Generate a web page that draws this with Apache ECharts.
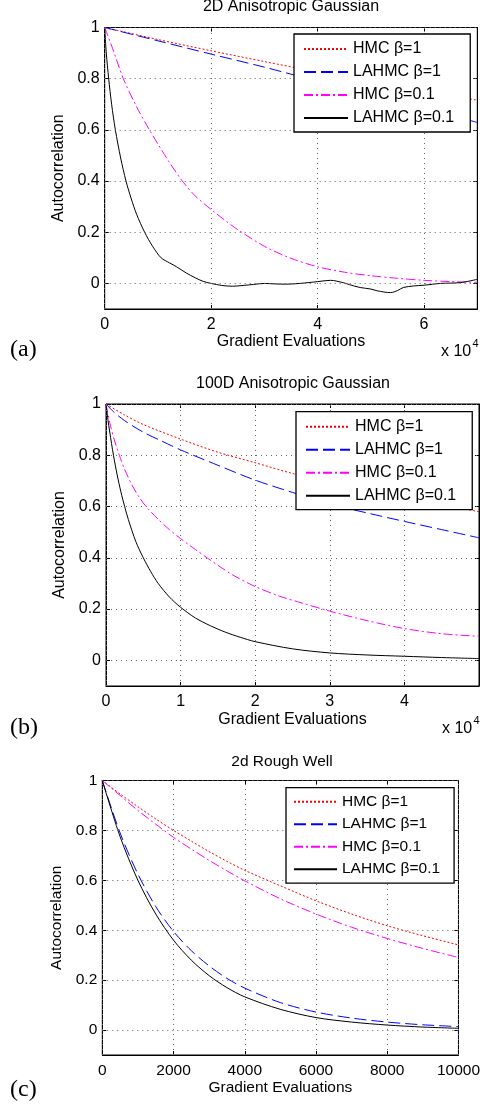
<!DOCTYPE html>
<html>
<head>
<meta charset="utf-8">
<script src="https://cdn.jsdelivr.net/npm/echarts@6/dist/echarts.min.js"></script>
<style>
html,body{margin:0;padding:0;background:#fff;}
#chart{width:483px;height:1107px;}
</style>
</head>
<body>
<div id="chart"></div>
<script>
// ---------- DATA ----------
const SERIES_NAMES = ['HMC β=1', 'LAHMC β=1', 'HMC β=0.1', 'LAHMC β=0.1'];
const TITLES = ['2D Anisotropic Gaussian', '100D Anisotropic Gaussian', '2d Rough Well'];
const Y_TICKS = [0, 0.2, 0.4, 0.6, 0.8, 1];
const A_XTICKS = [0, 20000, 40000, 60000];
const B_XTICKS = [0, 10000, 20000, 30000, 40000];
const C_XTICKS = [0, 2000, 4000, 6000, 8000, 10000];

// Panel (a) 2D Anisotropic Gaussian
const A_HMC1_X = [0, 10000, 20000, 30000, 40000, 50000, 60000, 70000];
const A_HMC1_Y = [1, 0.953, 0.909, 0.867, 0.826, 0.788, 0.751, 0.716];
const A_LAHMC1_X = [0, 10000, 20000, 30000, 40000, 50000, 60000, 70000];
const A_LAHMC1_Y = [1, 0.948, 0.896, 0.845, 0.79, 0.737, 0.684, 0.629];
const A_HMC01_X = [0, 1500, 3500, 6000, 8400, 10000, 12000, 14400, 17000, 20000, 22500, 25000, 30000, 35000, 40000, 45000, 50000, 55000, 60000, 65000, 70000];
const A_HMC01_Y = [1, 0.917, 0.8, 0.69, 0.6, 0.545, 0.478, 0.405, 0.342, 0.289, 0.248, 0.21, 0.145, 0.098, 0.065, 0.044, 0.03, 0.02, 0.012, 0.007, 0.004];
const A_LAHMC01_X = [0, 300, 750, 1300, 2000, 3000, 4000, 5000, 6000, 7500, 9000, 10600, 12200, 13500, 15300, 17000, 18500, 20000, 22000, 24000, 26000, 28000, 30000, 32000, 34000, 36700, 40000, 42400, 44800, 46000, 48000, 50000, 51200, 53700, 55000, 56100, 58000, 60000, 63100, 66800, 70000];
const A_LAHMC01_Y = [1, 0.9, 0.8, 0.7, 0.6, 0.49, 0.4, 0.33, 0.27, 0.2, 0.145, 0.1, 0.08, 0.065, 0.041, 0.022, 0.008, 0, -0.008, -0.011, -0.008, -0.004, 0, -0.002, -0.003, 0, 0.007, 0.012, 0.003, -0.005, -0.016, -0.022, -0.029, -0.036, -0.028, -0.016, -0.01, -0.007, 0, 0.003, 0.016];

// Panel (b) 100D Anisotropic Gaussian
const B_HMC1_X = [0, 2500, 5000, 10000, 15000, 20000, 25000, 30000, 35000, 40000, 45000, 50000];
const B_HMC1_Y = [1, 0.957, 0.92, 0.863, 0.812, 0.771, 0.729, 0.695, 0.665, 0.635, 0.607, 0.58];
const B_LAHMC1_X = [0, 1000, 2500, 5000, 7500, 10000, 15000, 20000, 25000, 30000, 35000, 40000, 45000, 50000];
const B_LAHMC1_Y = [1, 0.97, 0.935, 0.89, 0.855, 0.821, 0.761, 0.703, 0.655, 0.61, 0.575, 0.542, 0.51, 0.478];
const B_HMC01_X = [0, 600, 1200, 1790, 2500, 3500, 4500, 5440, 7000, 8500, 10000, 12000, 13600, 15000, 17000, 20000, 23300, 26000, 30000, 35000, 40000, 45000, 50000];
const B_HMC01_Y = [1, 0.915, 0.852, 0.8, 0.745, 0.683, 0.634, 0.598, 0.55, 0.51, 0.475, 0.432, 0.399, 0.371, 0.333, 0.288, 0.25, 0.226, 0.192, 0.155, 0.124, 0.104, 0.094];
const B_LAHMC01_X = [0, 250, 500, 1000, 1500, 2000, 2500, 3000, 4000, 5000, 6000, 7000, 8500, 10000, 12000, 14000, 16000, 18000, 20000, 25000, 30000, 35000, 40000, 45000, 50000];
const B_LAHMC01_Y = [1, 0.94, 0.891, 0.8, 0.723, 0.657, 0.6, 0.549, 0.463, 0.4, 0.346, 0.3, 0.247, 0.207, 0.165, 0.135, 0.11, 0.09, 0.073, 0.045, 0.029, 0.021, 0.016, 0.011, 0.007];

// Panel (c) 2d Rough Well
const C_X = [0, 500, 1000, 1500, 2000, 2500, 3000, 3500, 4000, 5000, 6000, 7000, 8000, 9000, 10000];
const C_HMC1_Y = [1, 0.946, 0.895, 0.846, 0.8, 0.757, 0.715, 0.676, 0.64, 0.578, 0.518, 0.465, 0.418, 0.378, 0.341];
const C_LAHMC1_Y = [1, 0.79, 0.625, 0.495, 0.395, 0.318, 0.257, 0.207, 0.168, 0.11, 0.072, 0.048, 0.032, 0.021, 0.014];
const C_HMC01_Y = [1, 0.94, 0.88, 0.825, 0.772, 0.725, 0.68, 0.638, 0.598, 0.526, 0.465, 0.412, 0.367, 0.327, 0.291];
const C_LAHMC01_Y = [1, 0.775, 0.6, 0.465, 0.36, 0.28, 0.218, 0.17, 0.133, 0.083, 0.05, 0.032, 0.02, 0.012, 0.007];

// ---------- STYLE ----------
const FONT = "'Liberation Sans', Arial, Helvetica, sans-serif";
const SERIF = "'Liberation Serif', 'Times New Roman', serif";
const STYLES = [
  { color: '#ff0000', type: [2, 2] },
  { color: '#0000ff', type: [12, 5] },
  { color: '#ff00ff', type: [9, 3, 2, 3] },
  { color: '#000000', type: 'solid' }
];

const GRIDS = [
  { left: 104.7, top: 27.5, width: 372.6, height: 281.5 },
  { left: 106, top: 404, width: 373, height: 282 },
  { left: 102.3, top: 780.5, width: 359.4, height: 274.5 }
];
const XMAX = [70000, 50000, 10000];
const XTICKS = [A_XTICKS, B_XTICKS, C_XTICKS];
const XFMT = [v => String(v / 10000), v => String(v / 10000), v => String(v)];
const FS = [16, 16, 15.5];
const XNAMEGAP = [25, 26, 24];
const YNAMEGAP = [36, 37, 34];

function zip(xs, ys) { return xs.map((x, i) => [x, ys[i]]); }
const PANEL_DATA = [
  [zip(A_HMC1_X, A_HMC1_Y), zip(A_LAHMC1_X, A_LAHMC1_Y), zip(A_HMC01_X, A_HMC01_Y), zip(A_LAHMC01_X, A_LAHMC01_Y)],
  [zip(B_HMC1_X, B_HMC1_Y), zip(B_LAHMC1_X, B_LAHMC1_Y), zip(B_HMC01_X, B_HMC01_Y), zip(B_LAHMC01_X, B_LAHMC01_Y)],
  [zip(C_X, C_HMC1_Y), zip(C_X, C_LAHMC1_Y), zip(C_X, C_HMC01_Y), zip(C_X, C_LAHMC01_Y)]
];

const xAxis = [], yAxis = [], series = [], title = [], legend = [];
const tickStyle = { color: '#000', width: 1 };

for (let p = 0; p < 3; p++) {
  xAxis.push({
    gridIndex: p, type: 'value', min: 0, max: XMAX[p], position: 'bottom',
    name: 'Gradient Evaluations', nameLocation: 'middle', nameGap: XNAMEGAP[p],
    nameTextStyle: { fontFamily: FONT, fontSize: FS[p], color: '#000' },
    axisLine: { show: true, onZero: false, lineStyle: { color: '#000', width: 1 } },
    axisTick: { show: true, inside: true, length: 4, customValues: XTICKS[p], lineStyle: tickStyle },
    axisLabel: { customValues: XTICKS[p], formatter: XFMT[p], fontFamily: FONT, fontSize: FS[p], color: '#000', margin: 8 },
    splitLine: { show: false }
  });
  xAxis.push({
    gridIndex: p, type: 'value', min: 0, max: XMAX[p], position: 'top',
    axisLine: { show: true, onZero: false, lineStyle: { color: '#000', width: 1 } },
    axisTick: { show: true, inside: true, length: 4, customValues: XTICKS[p], lineStyle: tickStyle },
    axisLabel: { show: false }, splitLine: { show: false }
  });
  yAxis.push({
    gridIndex: p, type: 'value', min: -0.1, max: 1, position: 'left',
    name: 'Autocorrelation', nameLocation: 'middle', nameGap: YNAMEGAP[p],
    nameTextStyle: { fontFamily: FONT, fontSize: FS[p], color: '#000' },
    axisLine: { show: true, onZero: false, lineStyle: { color: '#000', width: 1 } },
    axisTick: { show: true, inside: true, length: 4, customValues: Y_TICKS, lineStyle: tickStyle },
    axisLabel: { customValues: Y_TICKS, fontFamily: FONT, fontSize: FS[p], color: '#000', margin: 5,
      formatter: v => String(Math.round(v * 10) / 10) },
    splitLine: { show: false }
  });
  yAxis.push({
    gridIndex: p, type: 'value', min: -0.1, max: 1, position: 'right',
    axisLine: { show: true, onZero: false, lineStyle: { color: '#000', width: 1 } },
    axisTick: { show: true, inside: true, length: 4, customValues: Y_TICKS, lineStyle: tickStyle },
    axisLabel: { show: false }, splitLine: { show: false }
  });

  // dotted grid lines at the tick values
  series.push({
    name: 'grid' + p, type: 'line', xAxisIndex: p * 2, yAxisIndex: p * 2, data: [],
    silent: true, animation: false, z: 1,
    markLine: {
      silent: true, animation: false, symbol: ['none', 'none'], label: { show: false },
      lineStyle: { color: '#666', width: 1, type: [1, 4] },
      emphasis: { disabled: true },
      data: Y_TICKS.map(v => ({ yAxis: v })).concat(XTICKS[p].map(v => ({ xAxis: v })))
    }
  });

  for (let s = 0; s < 4; s++) {
    series.push({
      name: SERIES_NAMES[s], type: 'line',
      xAxisIndex: p * 2, yAxisIndex: p * 2,
      data: PANEL_DATA[p][s],
      showSymbol: false, symbol: 'none', smooth: 0.3,
      lineStyle: { color: STYLES[s].color, width: 1, type: STYLES[s].type },
      itemStyle: { color: STYLES[s].color },
      emphasis: { disabled: true },
      animation: false, z: 3
    });
  }
}

title.push(
  { text: TITLES[0], left: 291, top: -1, textAlign: 'center', padding: 0,
    textStyle: { fontFamily: FONT, fontSize: 16, fontWeight: 'normal', color: '#000' } },
  { text: TITLES[1], left: 293, top: 376, textAlign: 'center', padding: 0,
    textStyle: { fontFamily: FONT, fontSize: 16, fontWeight: 'normal', color: '#000' } },
  { text: TITLES[2], left: 282, top: 754, textAlign: 'center', padding: 0,
    textStyle: { fontFamily: FONT, fontSize: 15.5, fontWeight: 'normal', color: '#000' } }
);

const LEG_POS = [
  { left: 294, top: 34, padding: [7, 16, 6, 9], itemGap: 7, fs: 16, w: 44 },
  { left: 296, top: 411.7, padding: [7, 16, 6, 9], itemGap: 7, fs: 16, w: 44 },
  { left: 286, top: 787.7, padding: [6, 14, 6, 7], itemGap: 6.5, fs: 15.5, w: 43 }
];
for (let p = 0; p < 3; p++) {
  const L = LEG_POS[p];
  legend.push({
    data: SERIES_NAMES, orient: 'vertical', left: L.left, top: L.top,
    padding: L.padding, itemGap: L.itemGap, itemWidth: L.w, itemHeight: 14,
    backgroundColor: '#fff', borderColor: '#000', borderWidth: 1.3, borderRadius: 0,
    selectedMode: false,
    itemStyle: { opacity: 0 },
    textStyle: { fontFamily: FONT, fontSize: L.fs, color: '#000' },
    z: 10
  });
}

const graphic = [
  { type: 'text', x: 10, y: 350, style: { text: '(a)', font: '24px ' + SERIF, fill: '#000', verticalAlign: 'middle' } },
  { type: 'text', x: 10, y: 728, style: { text: '(b)', font: '24px ' + SERIF, fill: '#000', verticalAlign: 'middle' } },
  { type: 'text', x: 10, y: 1090, style: { text: '(c)', font: '24px ' + SERIF, fill: '#000', verticalAlign: 'middle' } },
  { type: 'text', x: 441, y: 352, style: { text: 'x 10', font: '16px ' + FONT, fill: '#000', verticalAlign: 'middle' } },
  { type: 'text', x: 472.5, y: 344, style: { text: '4', font: '11px ' + FONT, fill: '#000', verticalAlign: 'middle' } },
  { type: 'text', x: 442, y: 728.5, style: { text: 'x 10', font: '16px ' + FONT, fill: '#000', verticalAlign: 'middle' } },
  { type: 'text', x: 473.5, y: 720.5, style: { text: '4', font: '11px ' + FONT, fill: '#000', verticalAlign: 'middle' } }
];

const chart = echarts.init(document.getElementById('chart'), null, { renderer: 'canvas' });
chart.setOption({
  backgroundColor: '#fff',
  animation: false,
  title: title,
  legend: legend,
  grid: GRIDS.map(g => Object.assign({ show: true, borderColor: '#000', borderWidth: 1, backgroundColor: 'transparent', containLabel: false }, g)),
  xAxis: xAxis,
  yAxis: yAxis,
  series: series,
  graphic: graphic
});
</script>
</body>
</html>
